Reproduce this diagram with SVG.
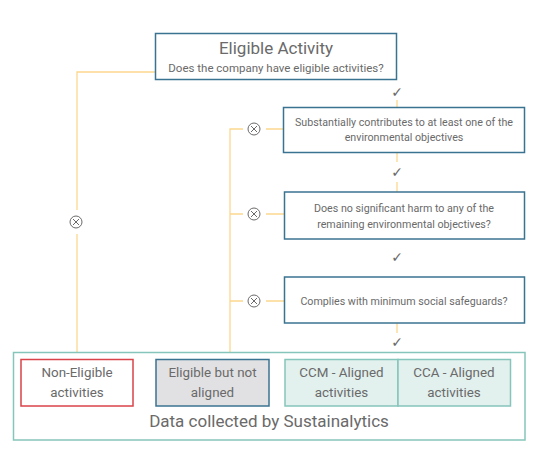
<svg xmlns="http://www.w3.org/2000/svg" width="534" height="452" viewBox="0 0 534 452">
<style>
.box{fill:#fff;stroke:#3a7391;stroke-width:1.5}
.t{font-family:Roboto,"Liberation Sans",sans-serif;fill:#6a6a6a;text-anchor:middle}
.s{font-size:10.7px}
.m{font-size:13.4px}
.c{stroke:#fcd88e;stroke-width:1.3;fill:none}
.sym{font-family:"DejaVu Sans",sans-serif;fill:#6a6a6a;text-anchor:middle}
.x{fill:none;stroke:#6a6a6a;stroke-width:1}
</style>
<defs>
<g id="no"><circle class="x" r="6"/><path class="x" d="M-3,-3L3,3M3,-3L-3,3"/></g>
</defs>
<rect width="534" height="452" fill="#fff"/>
<g id="connectors">
<path class="c" d="M155,72H77V210M77,234V359"/>
<path class="c" d="M243,129H230V352M230,214H243M230,301H243"/>
<path class="c" d="M266,129H283M266,214H284M266,301H284"/>
<path class="c" d="M397,100V107M397,152V162M397,182V192M397,323V333M397,352V359"/>
<text class="sym" x="397" y="97" font-size="14">✓</text>
<text class="sym" x="397" y="177" font-size="14">✓</text>
<text class="sym" x="397" y="262" font-size="14">✓</text>
<text class="sym" x="397" y="347" font-size="14">✓</text>
<use href="#no" x="254" y="129"/>
<use href="#no" x="254" y="214"/>
<use href="#no" x="254" y="301"/>
<use href="#no" x="76" y="222"/>
</g>
<g id="eligible">
<rect class="box" x="155.5" y="33.5" width="241" height="46"/>
<text class="t" x="276" y="54" font-size="17">Eligible Activity</text>
<text class="t" x="276" y="72" font-size="11.5">Does the company have eligible activities?</text>
</g>
<g id="substantial">
<rect class="box" x="283.5" y="107.5" width="241" height="45"/>
<text class="t s" x="404" y="126">Substantially contributes to at least one of the</text>
<text class="t s" x="404" y="141">environmental objectives</text>
</g>
<g id="dnsh">
<rect class="box" x="284.5" y="192" width="240" height="47"/>
<text class="t s" x="404" y="212">Does no significant harm to any of the</text>
<text class="t s" x="404" y="228">remaining environmental objectives?</text>
</g>
<g id="social">
<rect class="box" x="284.5" y="277" width="240" height="46"/>
<text class="t s" x="404" y="305">Complies with minimum social safeguards?</text>
</g>
<g id="data">
<rect x="13.5" y="352.5" width="511.5" height="87.5" fill="#fff" stroke="#86c5bb" stroke-width="1.5"/>
<text class="t" x="269" y="427" font-size="17">Data collected by Sustainalytics</text>
</g>
<g id="non-eligible">
<rect x="21" y="359.5" width="112" height="46.5" fill="#fff" stroke="#d9434a" stroke-width="1.5"/>
<text class="t m" x="77" y="377">Non-Eligible</text>
<text class="t m" x="77" y="396.5">activities</text>
</g>
<g id="not-aligned">
<rect x="156" y="359.5" width="113" height="46.5" fill="#e1e1e3" stroke="#3a7391" stroke-width="1.5"/>
<text class="t m" x="212.5" y="377">Eligible but not</text>
<text class="t m" x="212.5" y="396.5">aligned</text>
</g>
<g id="ccm">
<rect x="285" y="359.5" width="113" height="46.5" fill="#e2f0ee" stroke="#86c5bb" stroke-width="1.5"/>
<text class="t m" x="341.5" y="377">CCM - Aligned</text>
<text class="t m" x="341.5" y="396.5">activities</text>
</g>
<g id="cca">
<rect x="398" y="359.5" width="112.5" height="46.5" fill="#e2f0ee" stroke="#86c5bb" stroke-width="1.5"/>
<text class="t m" x="454" y="377">CCA - Aligned</text>
<text class="t m" x="454" y="396.5">activities</text>
</g>
</svg>
